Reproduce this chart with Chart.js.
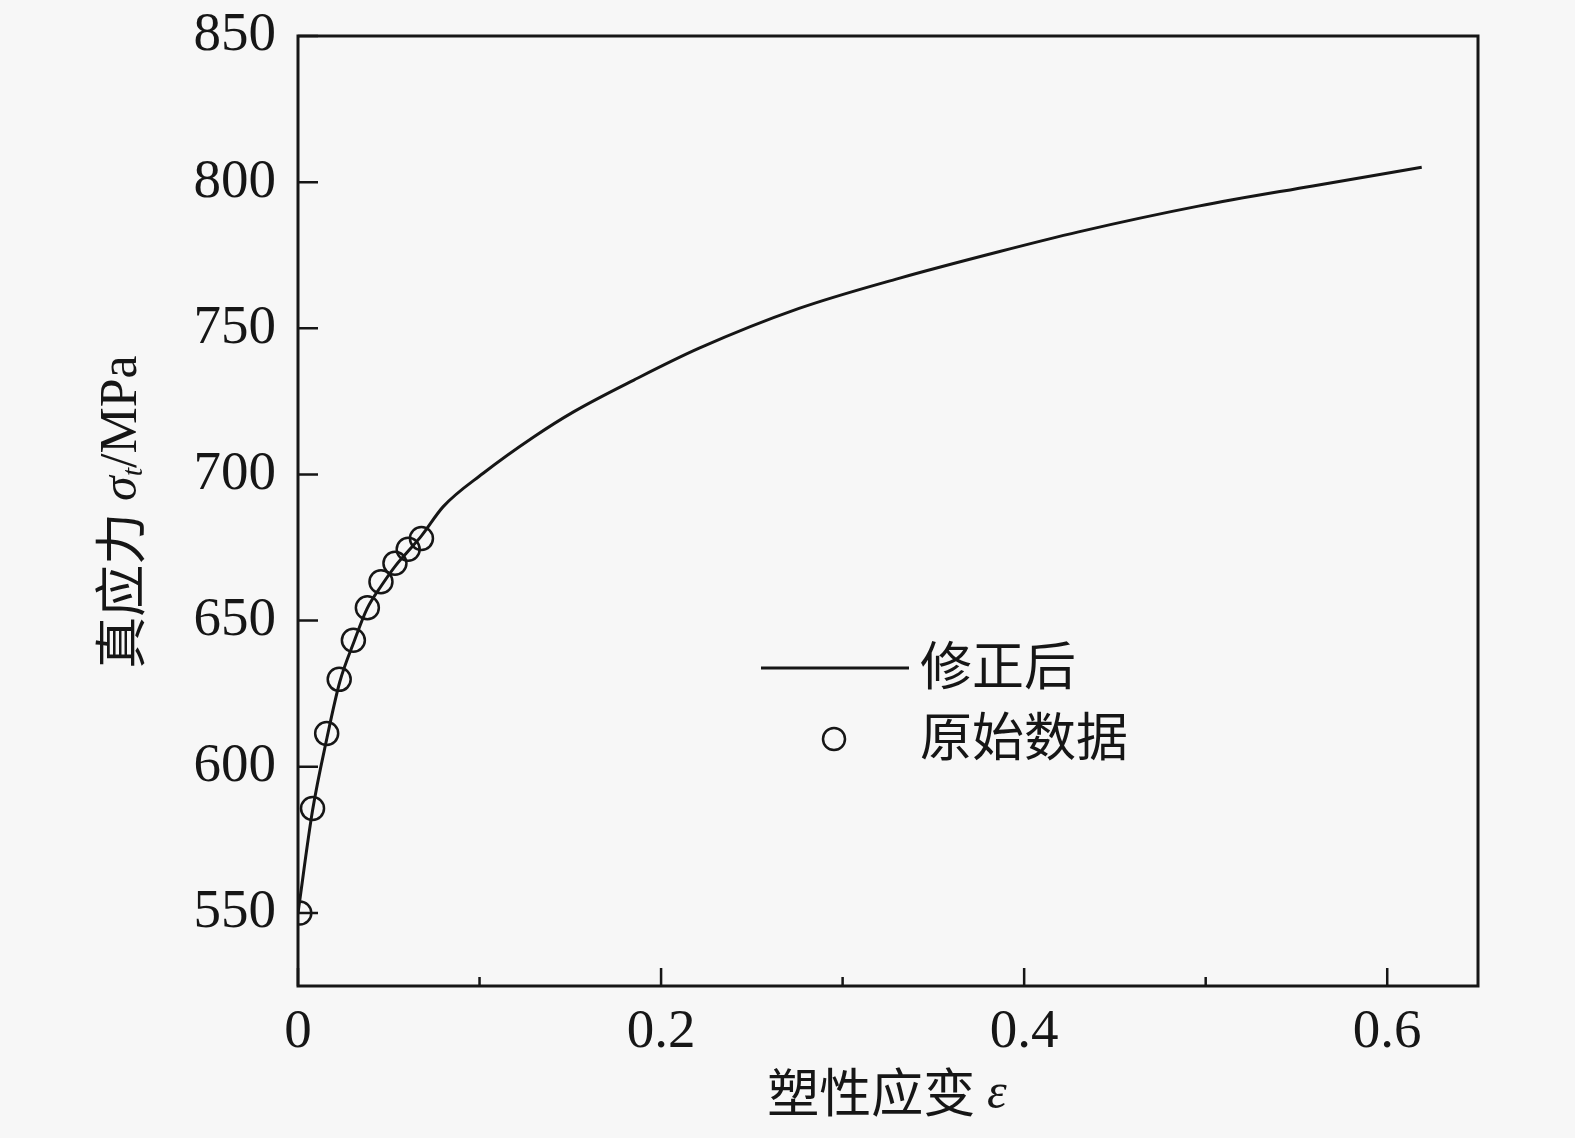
<!DOCTYPE html>
<html>
<head>
<meta charset="utf-8">
<script src="https://cdn.jsdelivr.net/npm/chart.js@4.4.1/dist/chart.umd.min.js"></script>
<style>
  html, body { margin: 0; padding: 0; background: #f7f7f7; }
  #wrap { width: 1575px; height: 1138px; }
</style>
</head>
<body>
<div id="wrap"><canvas id="stressChart"></canvas></div>
<script>
// corrected curve (strain, true stress)
const curveStrain = [0, 0.008, 0.016, 0.023, 0.031, 0.038, 0.046, 0.054, 0.061, 0.068, 0.080, 0.102, 0.130, 0.152, 0.185, 0.221, 0.276, 0.331, 0.386, 0.430, 0.496, 0.559, 0.619];
const curveStress = [550, 585, 610, 629, 643, 654, 662, 669, 674, 679, 689, 700.4, 712.9, 721.5, 732.3, 743.2, 756.8, 767.1, 776.2, 783.0, 791.8, 798.7, 805.1];

// raw test data
const rawStrain = [0.001, 0.008, 0.0158, 0.0227, 0.0305, 0.0382, 0.0457, 0.0534, 0.0607, 0.068];
const rawStress = [550, 585.7, 611.4, 629.9, 643.3, 654.4, 663.3, 669.6, 674.4, 678.1];

const xTicks = [0, 0.2, 0.4, 0.6];
const xMinorTicks = [0.1, 0.3, 0.5];
const yTicks = [550, 600, 650, 700, 750, 800, 850];

const seriesNames = ["修正后", "原始数据"];
const xTitle = "塑性应变";
const yTitle = "真应力";

const ink = "#161616";
const serif = "'Liberation Serif', 'DejaVu Serif', serif";
const cjk = "'Noto Sans CJK SC', sans-serif";

const curveData = curveStrain.map((x, i) => ({ x: x, y: curveStress[i] }));
const rawData = rawStrain.map((x, i) => ({ x: x, y: rawStress[i] }));

// frame, inward ticks, titles, legend
const decorations = {
  id: "decorations",
  afterDraw(chart) {
    const c = chart.ctx;
    const a = chart.chartArea;
    const xs = chart.scales.x;
    const ys = chart.scales.y;
    c.save();
    c.strokeStyle = ink;
    c.lineWidth = 3;
    c.strokeRect(a.left, a.top, a.right - a.left, a.bottom - a.top);

    c.lineWidth = 2.5;
    c.beginPath();
    for (let v of xTicks) {
      const px = xs.getPixelForValue(v);
      c.moveTo(px, a.bottom); c.lineTo(px, a.bottom - 18);
    }
    for (let v of xMinorTicks) {
      const px = xs.getPixelForValue(v);
      c.moveTo(px, a.bottom); c.lineTo(px, a.bottom - 9);
    }
    for (let v of yTicks) {
      const py = ys.getPixelForValue(v);
      c.moveTo(a.left, py); c.lineTo(a.left + 20, py);
    }
    c.stroke();

    // x title
    c.fillStyle = ink;
    c.textBaseline = "middle";
    c.font = "52px " + cjk;
    const w1 = c.measureText(xTitle + " ").width;
    c.font = "italic 50px " + serif;
    const w2 = c.measureText("ε").width;
    let x0 = 887 - (w1 + w2) / 2;
    c.font = "52px " + cjk;
    c.textAlign = "left";
    c.fillText(xTitle + " ", x0, 1092);
    c.font = "italic 50px " + serif;
    c.fillText("ε", x0 + w1, 1095);

    // y title (rotated)
    c.save();
    c.translate(120, 512);
    c.rotate(-Math.PI / 2);
    c.font = "52px " + cjk;
    const p1 = yTitle + " ";
    const t1 = c.measureText(p1).width;
    c.font = "italic 50px " + serif;
    const t2 = c.measureText("σ").width;
    c.font = "italic 30px " + serif;
    const t3 = c.measureText("t").width;
    c.font = "52px " + serif;
    const t4 = c.measureText("/MPa").width;
    let s = -(t1 + t2 + t3 + t4) / 2;
    c.font = "52px " + cjk;
    c.fillText(p1, s, 0);
    s += t1;
    c.font = "italic 50px " + serif;
    c.fillText("σ", s, 3);
    s += t2;
    c.font = "italic 30px " + serif;
    c.fillText("t", s, 14);
    s += t3;
    c.font = "52px " + serif;
    c.fillText("/MPa", s, 2);
    c.restore();

    // legend
    c.lineWidth = 3;
    c.beginPath();
    c.moveTo(761, 668); c.lineTo(909, 668);
    c.stroke();
    c.lineWidth = 2.5;
    c.beginPath();
    c.arc(834, 739, 11, 0, Math.PI * 2);
    c.stroke();
    c.font = "52px " + cjk;
    c.textAlign = "left";
    c.fillText(seriesNames[0], 920, 665);
    c.fillText(seriesNames[1], 920, 736);
    c.restore();
  }
};

const ctx = document.getElementById("stressChart");

new Chart(ctx, {
  type: "scatter",
  data: {
    datasets: [
      {
        label: seriesNames[0],
        type: "line",
        data: curveData,
        showLine: true,
        cubicInterpolationMode: "monotone",
        borderColor: ink,
        borderWidth: 3,
        pointRadius: 0,
        fill: false,
        clip: 0,
      },
      {
        label: seriesNames[1],
        data: rawData,
        showLine: false,
        pointRadius: 11.5,
        pointBorderWidth: 2.5,
        pointBorderColor: ink,
        pointBackgroundColor: "rgba(0,0,0,0)",
        clip: 0,
      },
    ],
  },
  options: {
    responsive: true,
    maintainAspectRatio: false,
    animation: false,
    events: [],
    layout: { padding: { left: 0, top: 36, right: 97, bottom: 0 } },
    plugins: {
      legend: { display: false },
      tooltip: { enabled: false },
    },
    scales: {
      x: {
        type: "linear",
        min: 0,
        max: 0.65,
        grid: { display: false, drawTicks: false },
        border: { display: false },
        afterBuildTicks: (scale) => { scale.ticks = xTicks.map((v) => ({ value: v })); },
        afterFit: (scale) => {
          scale.height = 152;
          scale.paddingLeft = 0;
          scale.paddingRight = 0;
        },
        ticks: {
          padding: 14,
          color: ink,
          font: { family: serif, size: 55 },
          callback: (v) => String(v),
        },
      },
      y: {
        type: "linear",
        min: 525,
        max: 850,
        grid: { display: false, drawTicks: false },
        border: { display: false },
        afterBuildTicks: (scale) => { scale.ticks = yTicks.map((v) => ({ value: v })); },
        afterFit: (scale) => {
          scale.width = 298;
          scale.paddingTop = 0;
          scale.paddingBottom = 0;
        },
        ticks: {
          padding: 22,
          color: ink,
          font: { family: serif, size: 55 },
          callback: (v) => String(v),
        },
      },
    },
  },
  plugins: [decorations],
});
</script>
</body>
</html>
